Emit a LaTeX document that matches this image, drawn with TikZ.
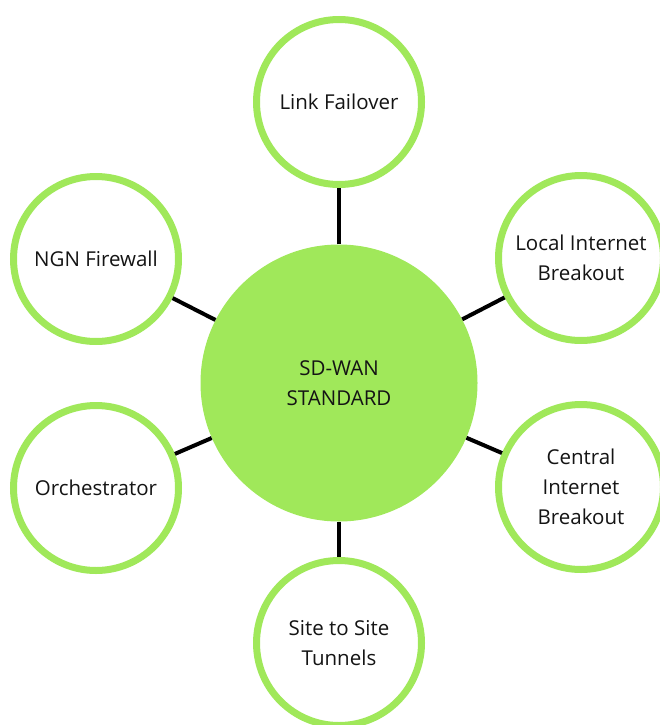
\documentclass[tikz,border=0pt]{standalone}
\usepackage{fontspec}
\setmainfont{Open Sans}
\definecolor{sdgreen}{RGB}{160,232,90}
\definecolor{txtcol}{RGB}{20,20,20}
\begin{document}
\begin{tikzpicture}[x=1pt,y=-1pt,
  ring/.style={circle,draw=sdgreen,line width=7pt,fill=white,minimum size=165pt,inner sep=0pt,
    align=center,text=txtcol,font=\fontsize{20.5}{30}\selectfont},
  hub/.style={circle,fill=sdgreen,minimum size=277pt,inner sep=0pt,align=center,text=txtcol,
    font=\fontsize{20.5}{30}\selectfont},
  link/.style={draw=black,line width=4pt}]
\useasboundingbox (0,0) rectangle (660,725);
\node[hub] (c) at (339,383) {SD-WAN\\STANDARD};
\node[ring] (lf) at (339,102) {Link Failover};
\node[ring] (ngn) at (96,259) {NGN Firewall};
\node[ring] (lib) at (581,258) {Local Internet\\Breakout};
\node[ring] (orc) at (96,488) {Orchestrator};
\node[ring] (cib) at (581,487) {Central\\Internet\\Breakout};
\node[ring] (sts) at (339,643) {Site to Site\\Tunnels};
\draw[link] (c) -- (lf);
\draw[link] (c) -- (ngn);
\draw[link] (c) -- (lib);
\draw[link] (c) -- (orc);
\draw[link] (c) -- (cib);
\draw[link] (c) -- (sts);
\end{tikzpicture}
\end{document}
